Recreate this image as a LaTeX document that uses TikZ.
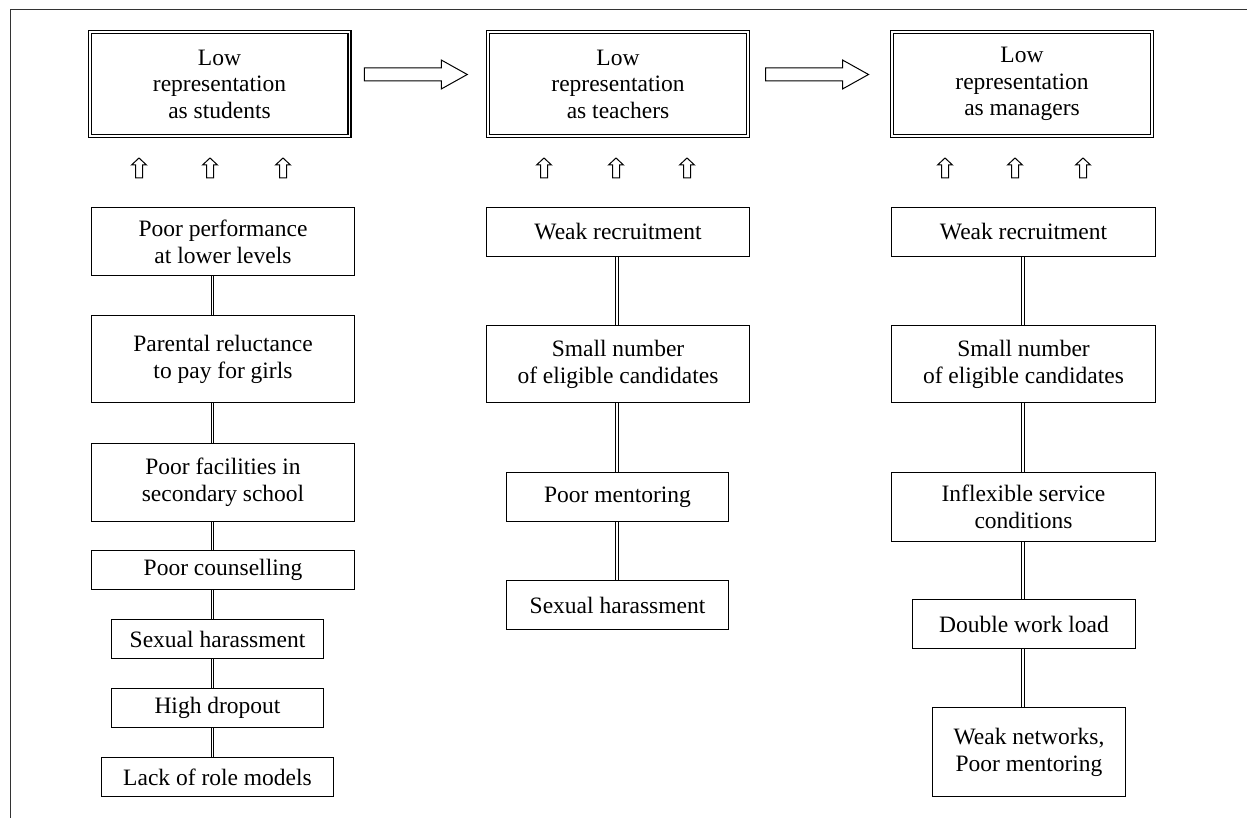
\documentclass[tikz,border=0pt]{standalone}
\usepackage{fontspec}
\setmainfont{Liberation Serif}
\usetikzlibrary{shapes,calc}
\tikzset{
cause/.style={
	  draw, line width=1pt, align=center, inner sep=2pt,
	    font=\fontsize{23.5}{27}\selectfont},
level/.style={
	  cause, double, double distance=1.6pt, line width=1.4pt,
	    minimum width=259.6pt, minimum height=103.6pt,
	    font=\fontsize{23.5}{26.5}\selectfont},
link/.style={draw, double, double distance=1.6pt, line width=0.8pt},
blockarrow/.style={draw, line width=1pt},
hollowup/.style={draw, line width=1pt, line join=miter}
}
\newcommand{\flowarrow}[2]{\draw[blockarrow] ($(#1.east)!0.5!(#2.west)+(-54.5,-16)$)
	-- ++(77,0) -- ++(0,-8) -- ++(26,14.5) -- ++(-26,14.5) -- ++(0,-8) -- ++(-77,0) -- cycle;}

\begin{document}
\begin{tikzpicture}[x=1pt, y=-1pt]
	\useasboundingbox (0,0) rectangle (1247,818);
	\draw[black!80, line width=1pt] (1247,10) -- (10,10) -- (10,818);
	\node[level] (t1) at (219.5,84) {Low\\representation\\as students};
	\node[level] (t2) at (618,84) {Low\\representation\\as teachers};
	\node[level] (t3) at (1022,84) {Low\\representation\\as managers};
	\flowarrow{t1}{t2}
	\flowarrow{t2}{t3}
	\foreach \x in {139,210,283,544,616,687,945,1015,1083}
		\draw[hollowup] (\x,158) -- ++(7.5,7) -- ++(-4,0) -- ++(0,13) -- ++(-7,0) -- ++(0,-13) -- ++(-4,0) -- cycle;

	\node[cause, minimum width=263pt, minimum height=68pt] (s1) at (223,241.5) {Poor performance\\at lower levels};
	\node[cause, minimum width=263pt, minimum height=87pt] (s2) at (223,359) {Parental reluctance\\to pay for girls};
	\node[cause, minimum width=263pt, minimum height=78pt] (s3) at (223,482.5) {Poor facilities in\\secondary school};
	\node[cause, minimum width=263pt, minimum height=39pt] (s4) at (223,570) {Poor counselling};
	\node[cause, minimum width=212pt, minimum height=39pt] (s5) at (217.5,639) {Sexual harassment};
	\node[cause, minimum width=212pt, minimum height=39pt] (s6) at (217.5,708) {High dropout};
	\node[cause, minimum width=232pt, minimum height=39pt] (s7) at (217.5,777) {Lack of role models};

	\node[cause, minimum width=263pt, minimum height=49pt] (m1) at (618,232) {Weak recruitment};
	\node[cause, minimum width=263pt, minimum height=77pt] (m2) at (618,364) {Small number\\of eligible candidates};
	\node[cause, minimum width=222pt, minimum height=49pt] (m3) at (617.5,497) {Poor mentoring};
	\node[cause, minimum width=222pt, minimum height=49pt] (m4) at (617.5,605) {Sexual harassment};

	\node[cause, minimum width=264pt, minimum height=49pt] (r1) at (1023.5,232) {Weak recruitment};
	\node[cause, minimum width=264pt, minimum height=77pt] (r2) at (1023.5,364) {Small number\\of eligible candidates};
	\node[cause, minimum width=264pt, minimum height=69pt] (r3) at (1023.5,507) {Inflexible service\\conditions};
	\node[cause, minimum width=223pt, minimum height=49pt] (r4) at (1024,624) {Double work load};
	\node[cause, minimum width=193pt, minimum height=89pt] (r5) at (1029,752) {Weak networks,\\Poor mentoring};

	\coordinate (sx) at (212.5,0);
	\coordinate (mx) at (617,0);
	\coordinate (rx) at (1023,0);
	\foreach \a/\b in {s1/s2,s2/s3,s3/s4,s4/s5,s5/s6,s6/s7}
		\draw[link] (\a.south -| sx) -- (\b.north -| sx);
	\foreach \a/\b in {m1/m2,m2/m3,m3/m4}
		\draw[link] (\a.south -| mx) -- (\b.north -| mx);
	\foreach \a/\b in {r1/r2,r2/r3,r3/r4,r4/r5}
		\draw[link] (\a.south -| rx) -- (\b.north -| rx);
\end{tikzpicture}
\end{document}
